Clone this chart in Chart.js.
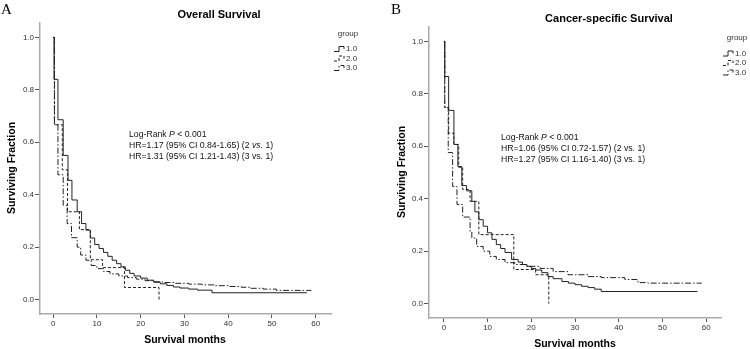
<!DOCTYPE html>
<html>
<head>
<meta charset="utf-8">
<script src="https://cdn.jsdelivr.net/npm/chart.js@4.4.0/dist/chart.umd.min.js"></script>
<style>
  body { margin: 0; background: #fff; }
  #wrap { position: relative; width: 750px; height: 349px; }
  canvas { position: absolute; top: 0; }
</style>
</head>
<body>
<div id="wrap">
  <canvas id="graficoA" width="375" height="349" style="left:0"></canvas>
  <canvas id="graficoB" width="375" height="349" style="left:375px"></canvas>
</div>
<script>
// grupos e rotulos dos eixos
const grupos = ['1.0', '2.0', '3.0'];
const rotulosX = ['0', '10', '20', '30', '40', '50', '60'];
const rotulosY = ['0.0', '0.2', '0.4', '0.6', '0.8', '1.0'];

// Painel A - Overall Survival (meses, fracao sobrevivente)
const mesesA1 = [0, 0.2, 1.1, 2.3, 3.4, 4.3, 5.5, 6.5, 7.5, 8.5, 9.5, 10.5, 11.5, 12.5, 13.5, 14.5, 15.5, 16.5, 17.5, 18.5, 20, 21.5, 23, 24.5, 26, 27.5, 29, 31, 33, 36.3, 58];
const survA1 = [1, 0.84, 0.686, 0.55, 0.455, 0.38, 0.335, 0.29, 0.265, 0.235, 0.21, 0.195, 0.18, 0.165, 0.15, 0.137, 0.125, 0.112, 0.1, 0.09, 0.082, 0.074, 0.066, 0.06, 0.054, 0.048, 0.044, 0.04, 0.036, 0.026, 0.026];
const mesesA2 = [0, 0.3, 2.1, 3.3, 6, 8.5, 11.3, 16.3, 24.2];
const survA2 = [1, 0.667, 0.495, 0.335, 0.267, 0.152, 0.122, 0.046, 0];
const mesesA3 = [0, 0.3, 1.1, 2.3, 3.2, 4.2, 5.5, 6.3, 7.5, 8.7, 10, 11.5, 13, 15, 17, 19, 21, 23, 25, 28, 31, 34, 37, 40, 43, 45, 48, 51, 59];
const survA3 = [1, 0.667, 0.476, 0.36, 0.29, 0.236, 0.2, 0.17, 0.15, 0.13, 0.118, 0.107, 0.098, 0.09, 0.084, 0.078, 0.072, 0.068, 0.065, 0.062, 0.059, 0.056, 0.053, 0.05, 0.047, 0.043, 0.04, 0.035, 0.035];

// Painel B - Cancer-specific Survival
const mesesB1 = [0, 0.2, 1.1, 2.3, 3.2, 4.1, 5.2, 6.4, 7.1, 8, 9, 10, 11, 12, 13, 14, 15.5, 17, 18, 19, 20, 21, 22.4, 23.8, 25, 27, 28.5, 30, 31.5, 33, 34.5, 36, 58];
const survB1 = [1, 0.866, 0.737, 0.607, 0.523, 0.45, 0.43, 0.39, 0.35, 0.32, 0.295, 0.27, 0.245, 0.225, 0.21, 0.195, 0.168, 0.158, 0.149, 0.142, 0.134, 0.128, 0.118, 0.103, 0.095, 0.084, 0.078, 0.072, 0.066, 0.061, 0.055, 0.046, 0.046];
const mesesB2 = [0, 0.2, 1.1, 2.3, 3.4, 4.3, 6, 8, 16, 21, 24];
const survB2 = [1, 0.748, 0.65, 0.607, 0.52, 0.435, 0.39, 0.263, 0.13, 0.11, 0];
const mesesB3 = [0, 0.2, 1, 2, 3, 4.3, 6, 6.4, 7.5, 9, 10.5, 12, 14, 16.2, 19, 22, 25, 28.4, 33, 36, 41.4, 44.4, 46.7, 59];
const survB3 = [1, 0.748, 0.576, 0.447, 0.378, 0.33, 0.275, 0.25, 0.218, 0.2, 0.18, 0.168, 0.156, 0.149, 0.142, 0.134, 0.122, 0.11, 0.103, 0.099, 0.092, 0.08, 0.078, 0.078];

const tracos = [[], [3, 2], [6, 2, 1.5, 2]];
const fonte = '"Liberation Sans", Arial, sans-serif';

function pontos(meses, surv) {
  return meses.map((m, i) => ({ x: m, y: surv[i] }));
}

// desenha titulos, anotacao e legenda por cima do grafico
function textosPlugin(cfg) {
  return {
    id: 'textos',
    afterDraw(chart) {
      const c = chart.ctx;
      c.save();
      c.fillStyle = '#000';
      c.font = '15px "Liberation Serif", serif';
      c.textAlign = 'left';
      c.textBaseline = 'alphabetic';
      c.fillText(cfg.letra, cfg.letraX, 14);

      c.textAlign = 'center';
      c.textBaseline = 'middle';
      c.font = 'bold 11px ' + fonte;
      c.fillText(cfg.titulo, cfg.tituloX, cfg.tituloY);

      c.font = 'bold 10.5px ' + fonte;
      c.fillText('Survival months', cfg.eixoX[0], cfg.eixoX[1]);
      c.save();
      c.translate(cfg.eixoY[0], cfg.eixoY[1]);
      c.rotate(-Math.PI / 2);
      c.fillText('Surviving Fraction', 0, 0);
      c.restore();

      c.textAlign = 'left';
      c.fillStyle = '#111';
      cfg.notas.forEach((linha, i) => {
        let x = cfg.notaX;
        linha.forEach(([txt, it]) => {
          c.font = (it ? 'italic ' : '') + '8.7px ' + fonte;
          c.fillText(txt, x, cfg.notaY + i * 10.8);
          x += c.measureText(txt).width;
        });
      });

      // legenda
      c.fillStyle = '#333';
      c.font = '8px ' + fonte;
      c.textAlign = 'center';
      c.fillText('group', cfg.legX + 14, cfg.legY);
      c.textAlign = 'left';
      c.strokeStyle = '#222';
      c.lineWidth = 1;
      chart.data.datasets.forEach((ds, i) => {
        const y = cfg.legY + 15.5 + i * 9.5;
        const x = cfg.legX;
        c.setLineDash(ds.borderDash);
        c.beginPath();
        c.moveTo(x, y + 2.5);
        c.lineTo(x + 5, y + 2.5);
        c.lineTo(x + 5, y - 2.5);
        c.lineTo(x + 10, y - 2.5);
        c.lineTo(x + 10, y);
        c.stroke();
        c.setLineDash([]);
        c.fillText(ds.label, x + 12, y);
      });
      c.restore();
    }
  };
}

function criarPainel(id, series, lay, cfg) {
  const ctx = document.getElementById(id).getContext('2d');
  return new Chart(ctx, {
    type: 'line',
    data: {
      datasets: series.map((s, i) => ({
        label: grupos[i],
        data: pontos(s[0], s[1]),
        stepped: 'before',
        borderColor: '#222',
        borderWidth: 1,
        borderDash: tracos[i],
        pointRadius: 0,
        fill: false
      }))
    },
    options: {
      responsive: false,
      animation: false,
      layout: { padding: { top: lay.top, right: lay.right, left: 0, bottom: 0 } },
      plugins: { legend: { display: false }, title: { display: false }, tooltip: { enabled: false } },
      scales: {
        x: {
          type: 'linear',
          min: lay.xMin,
          max: lay.xMax,
          afterBuildTicks: s => { s.ticks = rotulosX.map(v => ({ value: Number(v) })); },
          afterFit: s => { s.height = lay.xAltura; },
          ticks: { color: '#333', font: { size: 8, family: fonte }, padding: 1, maxRotation: 0,
                   callback: (v, i) => rotulosX[i] },
          grid: { drawOnChartArea: false, tickLength: 4, color: '#555' },
          border: { color: '#aaa', width: 1.5 }
        },
        y: {
          type: 'linear',
          min: -0.055,
          max: 1.055,
          afterBuildTicks: s => { s.ticks = rotulosY.map(v => ({ value: Number(v) })); },
          afterFit: s => { s.width = lay.yLargura; },
          ticks: { color: '#333', font: { size: 8, family: fonte }, padding: 1,
                   callback: (v, i) => rotulosY[i] },
          grid: { drawOnChartArea: false, tickLength: 5, color: '#555' },
          border: { color: '#aaa', width: 1.5 }
        }
      }
    },
    plugins: [textosPlugin(cfg)]
  });
}

criarPainel('graficoA',
  [[mesesA1, survA1], [mesesA2, survA2], [mesesA3, survA3]],
  { top: 23, right: 44, xAltura: 35, yLargura: 40, xMin: -3, xMax: 63.5 },
  {
    letra: 'A', letraX: 1, titulo: 'Overall Survival', tituloX: 219, tituloY: 15,
    eixoX: [185, 340], eixoY: [12.5, 168],
    notaX: 129, notaY: 135,
    notas: [
      [['Log-Rank ', false], ['P', true], [' < 0.001', false]],
      [['HR=1.17 (95% CI 0.84-1.65) (2 ', false], ['vs.', true], [' 1)', false]],
      [['HR=1.31 (95% CI 1.21-1.43) (3 vs. 1)', false]]
    ],
    legX: 334, legY: 33.5
  });

criarPainel('graficoB',
  [[mesesB1, survB1], [mesesB2, survB2], [mesesB3, survB3]],
  { top: 27, right: 29, xAltura: 31, yLargura: 54, xMin: -3.4, xMax: 63.4 },
  {
    letra: 'B', letraX: 16, titulo: 'Cancer-specific Survival', tituloX: 234, tituloY: 19,
    eixoX: [200, 344], eixoY: [27, 172],
    notaX: 126, notaY: 138,
    notas: [
      [['Log-Rank ', false], ['P', true], [' < 0.001', false]],
      [['HR=1.06 (95% CI 0.72-1.57) (2 vs. 1)', false]],
      [['HR=1.27 (95% CI 1.16-1.40) (3 vs. 1)', false]]
    ],
    legX: 348, legY: 38
  });
</script>
</body>
</html>
